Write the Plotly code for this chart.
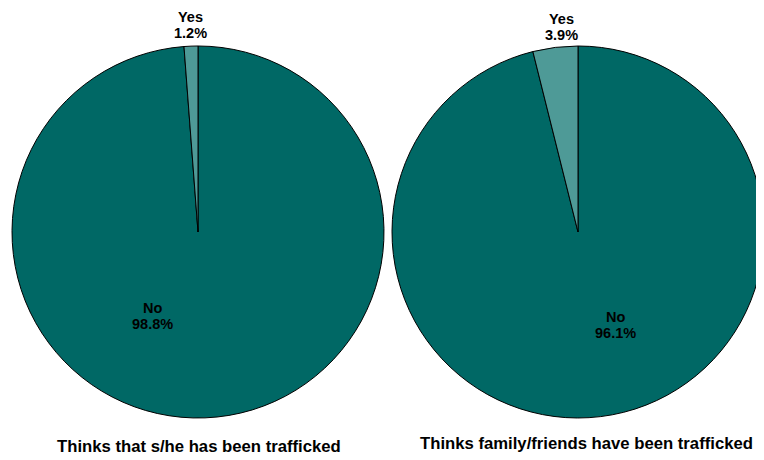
import plotly.graph_objects as go

labels = ["No", "Yes"]
self_values = [98.8, 1.2]
family_values = [96.1, 3.9]
titles = ["Thinks that s/he has been trafficked", "Thinks family/friends have been trafficked"]
colors = ["#006865", "#4E9A97"]

OFF = 8  # page body margin of the browser
W, H = 764 - OFF, 460 - OFF
def px(x): return (x - OFF) / W
def py(y): return 1 - (y - OFF) / H

fig = go.Figure()
fig.add_trace(go.Pie(labels=labels, values=self_values, sort=False, direction="clockwise",
                     rotation=0, textinfo="none", hoverinfo="label+percent",
                     marker=dict(colors=colors, line=dict(color="black", width=1)),
                     domain=dict(x=[px(12), px(384)], y=[py(418), py(46)]), showlegend=False))
fig.add_trace(go.Pie(labels=labels, values=family_values, sort=False, direction="clockwise",
                     rotation=0, textinfo="none", hoverinfo="label+percent",
                     marker=dict(colors=colors, line=dict(color="black", width=1)),
                     domain=dict(x=[px(392), 1.0], y=[py(422), py(42)]), showlegend=False))

FAM = "Liberation Sans, Arial, sans-serif"
lab_font = dict(family=FAM, size=14.5, color="black")
title_font = dict(family=FAM, size=16.7, color="black")
ann = []
def line(x, y, text, font):
    ann.append(dict(x=px(x), y=py(y), xref="paper", yref="paper", showarrow=False,
                    text=f"<b>{text}</b>", font=font, xanchor="center", yanchor="middle"))
def lab(x, y1, y2, name, v):
    line(x, y1, name, lab_font)
    line(x, y2, f"{v:.1f}%", lab_font)
lab(190, 17, 33, labels[1], self_values[1])
lab(152, 308, 324, labels[0], self_values[0])
lab(561, 19, 35, labels[1], family_values[1])
lab(615, 317, 333, labels[0], family_values[0])
line(199, 446, titles[0], title_font)
line(586, 443, titles[1], title_font)

fig.update_layout(width=W, height=H, margin=dict(l=0, r=0, t=0, b=0),
                  paper_bgcolor="white", plot_bgcolor="white", annotations=ann)
fig.write_html("out.html")
